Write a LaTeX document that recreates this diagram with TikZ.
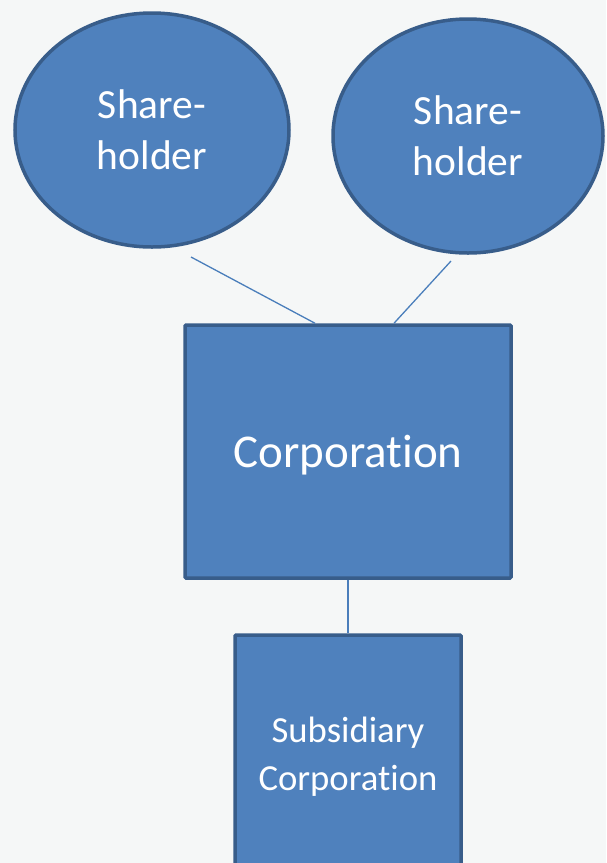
\documentclass[tikz,border=0pt]{standalone}
\usepackage{fontspec}
\setmainfont[Ligatures=NoCommon]{Carlito}
\usetikzlibrary{shapes.geometric}
\definecolor{boxfill}{HTML}{4F81BD}
\definecolor{boxedge}{HTML}{385D8A}
\definecolor{linkblue}{HTML}{4A7EBB}
\definecolor{paper}{HTML}{F5F7F7}
\begin{document}
\begin{tikzpicture}[x=1pt, y=-1pt,
    holder/.style={ellipse, draw=boxedge, fill=boxfill, line width=3.5pt, inner sep=0pt,
        text=white, align=center, font=\fontsize{41.5}{51}\selectfont},
    corpbox/.style={rectangle, draw=boxedge, fill=boxfill, line width=3.5pt, inner sep=0pt,
        rounded corners=1pt, text=white, align=center},
    link/.style={draw=linkblue, line width=1.3pt}]
    % 1. Nền xám nhạt
    \fill[paper] (0,0) rectangle (606,863);
    \useasboundingbox (0,0) rectangle (606,863);

    % 2. Hai cổ đông (hình elip)
    \node[holder, minimum width=274pt, minimum height=234pt] (sh1) at (152,130) {Share-\\holder};
    \node[holder, minimum width=270pt, minimum height=234pt] (sh2) at (468,136) {Share-\\holder};

    % 3. Công ty và công ty con
    \node[corpbox, minimum width=326pt, minimum height=253pt, text height=41pt, text depth=10pt,
        font=\fontsize{47}{56}\selectfont] (corp) at (348,451.5) {Corporation};
    \node[corpbox, minimum width=226pt, minimum height=243pt,
        font=\fontsize{36.7}{48}\selectfont] (sub) at (348,756.5) {Subsidiary\\Corporation};

    % 4. Các đường nối
    \coordinate (s1) at (191,257);
    \coordinate (s2) at (451,261);
    \draw[link] (s1) -- ([xshift=-33pt]corp.north);
    \draw[link] (s2) -- ([xshift=46pt]corp.north);
    \draw[link] (corp.south) -- (sub.north);
\end{tikzpicture}
\end{document}
